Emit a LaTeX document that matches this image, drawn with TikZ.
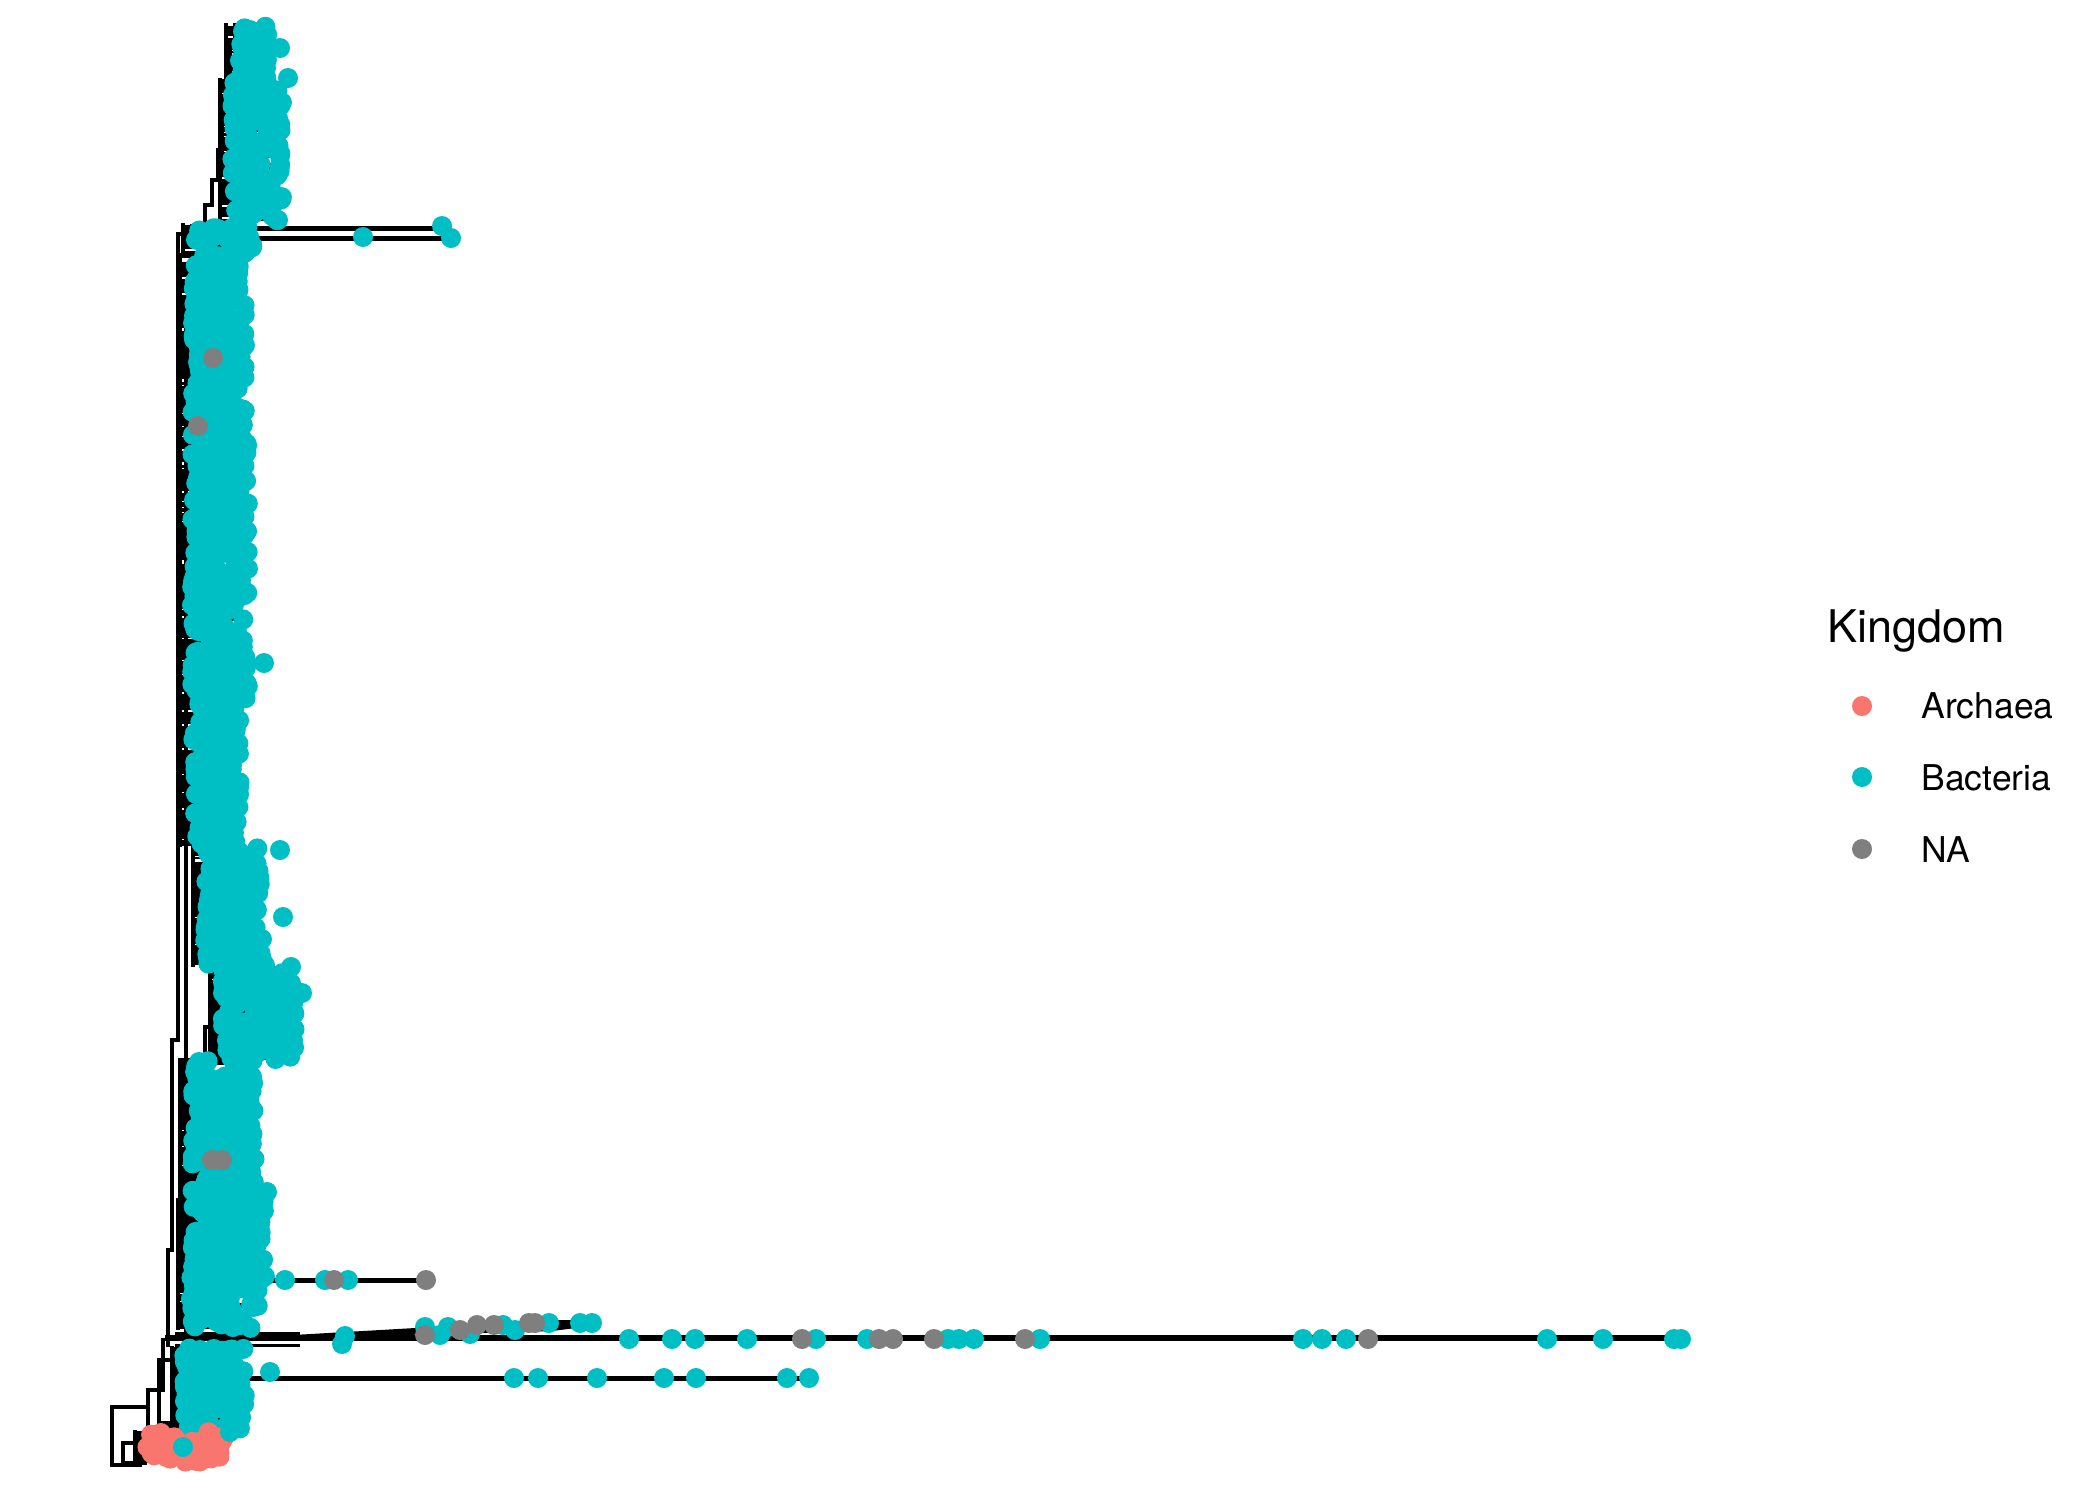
\documentclass[tikz,border=0pt]{standalone}
\usepackage{fontspec}
\setmainfont{TeX Gyre Heros}
\definecolor{arch}{HTML}{F8766D}
\definecolor{bact}{HTML}{00BFC4}
\definecolor{nacol}{HTML}{7F7F7F}
\begin{document}
\begin{tikzpicture}[x=1pt,y=-1pt,
  branch/.style={line width=3.5pt,line cap=rect},
  longbr/.style={line width=5pt},
  twig/.style={line width=2.5pt},
  dotb/.style={fill=bact},
  dotg/.style={fill=nacol},
  dota/.style={fill=arch},
  lgtxt/.style={anchor=base west,font=\fontsize{35.5}{42}\selectfont},
  lgdot/.style={circle,inner sep=0pt,minimum size=20pt}]
\useasboundingbox (0,0) rectangle (2100,1500);
\fill[white] (0,0) rectangle (2100,1500);
\def\segs{25/80/238/268/33/bact, 80/225/232/282/140/bact, 225/255/195/255/36/bact,
  255/440/192/245/190/bact, 440/700/192/248/280/bact, 700/845/192/240/135/bact,
  845/965/205/262/135/bact, 965/1060/222/295/140/bact, 1060/1200/192/255/170/bact,
  1200/1290/190/265/130/bact, 1290/1328/190/258/50/bact, 1348/1432/184/245/110/bact,
  1432/1462/147/225/48/arch}
% ---- backbone ----
\draw[branch] (178,234) -- (178,1040) -- (172,1040) -- (172,1250) -- (168,1250) -- (168,1345);
\draw[branch] (186,305) -- (186,1330);
\draw[branch] (178,234) -- (192,234) -- (192,226) -- (205,226) -- (205,205) -- (212,205)
  -- (212,180) -- (218,180) -- (218,150) -- (222,150) -- (222,110) -- (226,110)
  -- (226,70) -- (230,70) -- (230,40) -- (235,40) -- (235,25) -- (245,25);
\draw[branch] (182,1083) -- (182,1060) -- (205,1060) -- (205,1027) -- (218,1027) -- (218,1003) -- (228,1003) -- (228,993) -- (240,993);
% long branch 1
\draw[longbr] (200,228) -- (440,228);
\draw[longbr] (200,238) -- (451,238);
% long branch 2
\draw[longbr] (180,1280) -- (426,1280);
% long branch 3
\draw[line width=6.5pt] (165,1338) -- (1680,1338);
\draw[line width=3pt] (175,1333) -- (300,1333);
\draw[line width=3pt] (175,1345) -- (300,1345);
\fill (293,1335) -- (450,1326) -- (552,1320) -- (592,1320) -- (592,1326) -- (552,1331) -- (293,1338) -- cycle;
% long branch 4
\draw[longbr] (180,1378) -- (810,1378);
% root part
\draw[branch] (163,1340) -- (163,1390);
\draw[branch] (159,1360) -- (159,1423) -- (178,1423);
\draw[branch] (159,1360) -- (178,1360);
\draw[branch] (148,1390) -- (163,1390);
\draw[branch] (148,1390) -- (148,1427) -- (170,1427);
\draw[branch] (112,1407) -- (148,1407);
\draw[branch] (112,1407) -- (112,1465) -- (140,1465);
\draw[branch] (123,1443) -- (123,1463) -- (145,1463);
\draw[branch] (123,1443) -- (150,1443);
% ---- clade spines and twigs ----
\pgfmathsetseed{7}
\foreach \ya/\yb/\xl/\xr/\n/\c in \segs {
  \draw[branch] (\xl-12,\ya) -- (\xl-12,\yb);
  \foreach \k in {1,...,\n} {
    \pgfmathsetmacro\yy{\ya+rnd*(\yb-\ya)}
    \pgfmathsetmacro\xx{\xl+rnd*(\xr-\xl)}
    \draw[twig] (\xl-12,\yy) -- (\xx,\yy);
  }
}
% ---- tip cloud ----
\pgfmathsetseed{7}
\foreach \ya/\yb/\xl/\xr/\n/\c in \segs {
  \foreach \k in {1,...,\n} {
    \pgfmathsetmacro\yy{\ya+rnd*(\yb-\ya)}
    \pgfmathsetmacro\xx{\xl+rnd*(\xr-\xl)}
    \fill[\c] (\xx,\yy) circle[radius=10pt];
  }
}
% extra bulges of the cloud
\foreach \xx/\yy in {280/48, 288/78, 278/220, 264/663, 280/850, 283/917, 302/993, 293/1040,
  267/1192, 260/1223, 285/1280, 270/1372, 250/30, 245/30, 205/240, 200/1250, 230/1432}
  \fill[dotb] (\xx,\yy) circle[radius=10pt];
\foreach \xx/\yy in {213/358, 198/426, 212/1160, 222/1160}
  \fill[dotg] (\xx,\yy) circle[radius=10pt];
\fill[dotb] (183,1447) circle[radius=10pt];
% ---- tips on long branches ----
\foreach \xx/\yy in {442/226, 451/238, 363/237}
  \fill[dotb] (\xx,\yy) circle[radius=10pt];
\foreach \xx/\yy in {325/1280, 348/1280}
  \fill[dotb] (\xx,\yy) circle[radius=10pt];
\foreach \xx/\yy in {334/1280, 426/1280}
  \fill[dotg] (\xx,\yy) circle[radius=10pt];
\foreach \xx/\yy in {425/1327, 448/1327, 503/1325, 549/1323, 580/1323, 592/1323, 345/1336, 342/1344,
  440/1335, 470/1334, 515/1330}
  \fill[dotb] (\xx,\yy) circle[radius=10pt];
\foreach \xx/\yy in {425/1335, 460/1330, 477/1325, 494/1325, 529/1323, 535/1323}
  \fill[dotg] (\xx,\yy) circle[radius=10pt];
\foreach \xx in {629, 672, 695, 747, 816, 867, 948, 959, 974, 1040, 1303, 1322, 1346, 1547, 1603, 1674, 1681}
  \fill[dotb] (\xx,1339) circle[radius=10pt];
\foreach \xx in {802, 879, 893, 934, 1025, 1368}
  \fill[dotg] (\xx,1339) circle[radius=10pt];
\foreach \xx in {514, 538, 597, 664, 696, 787, 809}
  \fill[dotb] (\xx,1378) circle[radius=10pt];
% ---- legend ----
\node[anchor=base west,font=\fontsize{45}{54}\selectfont] (ttl) at (1824,642) {Kingdom};
\node[lgdot,fill=arch] (ka) at (1862,706) {};
\node[lgtxt] (la) at (1918,718) {Archaea};
\node[lgdot,fill=bact] (kb) at (1862,777) {};
\node[lgtxt] (lb) at (1918,790) {Bacteria};
\node[lgdot,fill=nacol] (kn) at (1862,849) {};
\node[lgtxt] (ln) at (1918,862) {NA};
\end{tikzpicture}
\end{document}
